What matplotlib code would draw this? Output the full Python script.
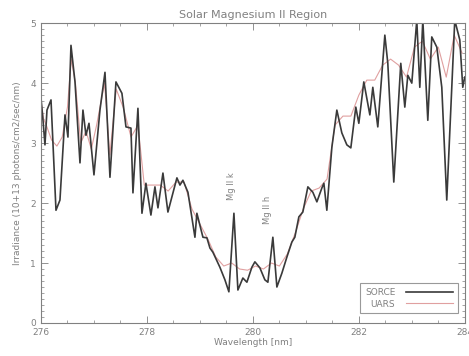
import matplotlib
matplotlib.use('Agg')
import matplotlib.pyplot as plt
from matplotlib.ticker import MultipleLocator

# SORCE high-res spectrum
sorce_wl = [276.000, 276.038, 276.075, 276.113, 276.189, 276.283, 276.358, 276.453, 276.509, 276.566,
            276.642, 276.736, 276.792, 276.849, 276.906, 277.000, 277.113, 277.208, 277.302, 277.415,
            277.528, 277.604, 277.698, 277.736, 277.830, 277.906, 277.981, 278.075, 278.151, 278.208,
            278.302, 278.396, 278.566, 278.623, 278.679, 278.774, 278.906, 278.943, 279.057, 279.132,
            279.189, 279.245, 279.377, 279.472, 279.547, 279.642, 279.717, 279.811, 279.887, 279.981,
            280.038, 280.132, 280.226, 280.283, 280.377, 280.453, 280.547, 280.642, 280.736, 280.792,
            280.868, 280.943, 281.038, 281.132, 281.208, 281.302, 281.340, 281.396, 281.491, 281.585,
            281.679, 281.774, 281.849, 281.943, 282.000, 282.094, 282.208, 282.264, 282.358, 282.491,
            282.547, 282.660, 282.792, 282.868, 282.925, 283.000, 283.094, 283.151, 283.208, 283.302,
            283.377, 283.472, 283.566, 283.660, 283.811, 283.906, 283.962, 284.000]
sorce_irr = [3.75, 3.38, 2.97, 3.55, 3.72, 1.88, 2.05, 3.47, 3.10, 4.63,
             4.02, 2.67, 3.55, 3.13, 3.33, 2.47, 3.55, 4.18, 2.43, 4.02,
             3.83, 3.27, 3.25, 2.17, 3.58, 1.83, 2.33, 1.80, 2.27, 1.92,
             2.50, 1.85, 2.42, 2.30, 2.38, 2.18, 1.43, 1.83, 1.43, 1.42,
             1.25, 1.18, 0.93, 0.72, 0.52, 1.83, 0.55, 0.75, 0.68, 0.93,
             1.02, 0.92, 0.72, 0.68, 1.43, 0.60, 0.83, 1.10, 1.35, 1.43,
             1.77, 1.85, 2.27, 2.18, 2.02, 2.25, 2.33, 1.88, 2.93, 3.55,
             3.17, 2.97, 2.92, 3.60, 3.33, 4.02, 3.47, 3.93, 3.27, 4.80,
             4.33, 2.35, 4.33, 3.60, 4.13, 4.00, 5.05, 3.93, 5.05, 3.38,
             4.77, 4.60, 3.93, 2.05, 5.05, 4.72, 3.93, 4.10]

# UARS spectrum, lower resolution
uars_wl = [276.00, 276.05, 276.10, 276.20, 276.30, 276.40, 276.50, 276.57, 276.65, 276.75,
           276.85, 276.95, 277.05, 277.20, 277.30, 277.42, 277.55, 277.70, 277.83, 277.95,
           278.10, 278.25, 278.40, 278.55, 278.70, 278.85, 279.00, 279.15, 279.30, 279.45,
           279.60, 279.75, 279.90, 280.05, 280.20, 280.35, 280.50, 280.65, 280.80, 280.95,
           281.10, 281.25, 281.40, 281.55, 281.70, 281.85, 282.00, 282.15, 282.30, 282.45,
           282.60, 282.75, 282.90, 283.05, 283.20, 283.35, 283.50, 283.65, 283.80, 283.95]
uars_irr = [3.70, 3.40, 3.30, 3.05, 2.95, 3.10, 3.60, 4.40, 4.00, 3.00,
            3.20, 2.90, 3.30, 4.00, 2.80, 3.90, 3.60, 3.10, 3.30, 2.30,
            2.30, 2.30, 2.20, 2.35, 2.35, 1.90, 1.65, 1.40, 1.10, 0.95,
            1.00, 0.90, 0.88, 0.95, 0.90, 1.00, 0.95, 1.15, 1.50, 1.90,
            2.20, 2.25, 2.40, 3.30, 3.45, 3.45, 3.80, 4.05, 4.05, 4.30,
            4.40, 4.30, 4.10, 4.60, 4.70, 4.40, 4.60, 4.10, 4.80, 4.50]

grey = '#808080'
plt.rcParams['font.family'] = 'DejaVu Sans'
plt.rcParams['font.size'] = 6.5

fig = plt.figure(figsize=(4.69, 3.56), dpi=100)
ax = fig.add_axes([0.0874, 0.0927, 0.9036, 0.8423])

ax.plot(uars_wl, uars_irr, color='#e0a0a0', lw=0.8, label='UARS')
ax.plot(sorce_wl, sorce_irr, color='#3a3a3a', lw=1.2, label='SORCE')

ax.set_xlim(276, 284)
ax.set_ylim(0, 5)
ax.xaxis.set_major_locator(MultipleLocator(2))
ax.xaxis.set_minor_locator(MultipleLocator(0.5))
ax.yaxis.set_major_locator(MultipleLocator(1))
ax.yaxis.set_minor_locator(MultipleLocator(0.1))
ax.tick_params(which='both', direction='in', top=True, right=True, colors=grey, labelcolor=grey)
ax.tick_params(which='major', length=5, width=0.6)
ax.tick_params(which='minor', length=2.5, width=0.5)
for s in ax.spines.values():
    s.set_color(grey)
    s.set_linewidth(0.8)

ax.set_title('Solar Magnesium II Region', color=grey, fontsize=8, pad=4)
ax.set_xlabel('Wavelength [nm]', color=grey, fontsize=6.5, labelpad=1)
ax.set_ylabel('Irradiance (10+13 photons/cm2/sec/nm)', color=grey, fontsize=6.5, labelpad=6)

ax.text(279.60, 2.28, 'Mg II k', rotation=90, ha='center', va='center', color=grey, fontsize=6)
ax.text(280.28, 1.88, 'Mg II h', rotation=90, ha='center', va='center', color=grey, fontsize=6)

h, l = ax.get_legend_handles_labels()
leg = ax.legend(h[::-1], l[::-1], loc='lower right', bbox_to_anchor=(0.983, 0.033),
                markerfirst=False, fontsize=6.5, frameon=True, fancybox=False,
                edgecolor=grey, handlelength=5.2, handletextpad=1.2,
                borderaxespad=0, borderpad=0.5, labelspacing=0.3)
for t in leg.get_texts():
    t.set_color(grey)
leg.get_frame().set_linewidth(0.8)

fig.savefig('out.png', dpi=100)
